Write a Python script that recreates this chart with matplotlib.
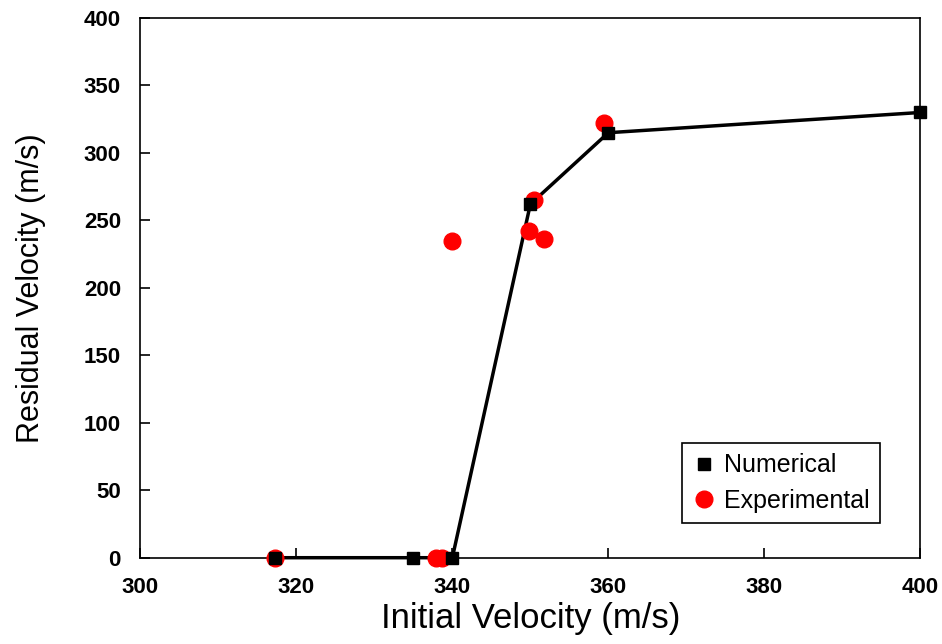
import matplotlib.pyplot as plt

plt.rcParams['font.family'] = ['Liberation Sans', 'DejaVu Sans']

# Numerical results
num_x = [317.2, 335, 340, 350, 360, 400]
num_y = [0, 0, 0, 262, 315, 330]

# Experimental results
exp_x = [317.2, 337.9, 338.7, 340, 349.8, 350.5, 351.7, 359.4]
exp_y = [0, 0, 0, 235, 242, 265, 236, 322]

fig = plt.figure(figsize=(9.42, 6.44), dpi=100)
ax = fig.add_axes([0.149, 0.134, 0.828, 0.838])

ax.plot(num_x, num_y, color="black", lw=2.5, zorder=2, clip_on=False)
ax.plot(exp_x, exp_y, "o", color="#ff0000", ms=12, ls="none",
        label="Experimental", zorder=3, clip_on=False)
ax.plot(num_x, num_y, "s", color="black", ms=8.5, ls="none",
        label="Numerical", zorder=4, clip_on=False)

ax.set_xlim(300, 400)
ax.set_ylim(0, 400)
ax.set_xticks(range(300, 401, 20))
ax.set_yticks(range(0, 401, 50))
ax.tick_params(direction="in", length=7, width=1.2, labelsize=16)
ax.tick_params(axis="x", pad=14)
ax.tick_params(axis="y", pad=14)
for lbl in ax.get_xticklabels() + ax.get_yticklabels():
    lbl.set_fontweight("bold")
for s in ax.spines.values():
    s.set_linewidth(1.2)

ax.set_xlabel("Initial Velocity (m/s)", fontsize=25, labelpad=3)
ax.set_ylabel("Residual Velocity (m/s)", fontsize=22, labelpad=27)

h, l = ax.get_legend_handles_labels()
leg = ax.legend(h[::-1], l[::-1], loc="lower right", bbox_to_anchor=(0.964, 0.042),
                fontsize=18, fancybox=False, edgecolor="black", framealpha=1,
                handletextpad=0.3, handlelength=1.0, borderpad=0.4,
                labelspacing=0.45)
leg.get_frame().set_linewidth(1.2)

plt.savefig("out.png", dpi=100)
